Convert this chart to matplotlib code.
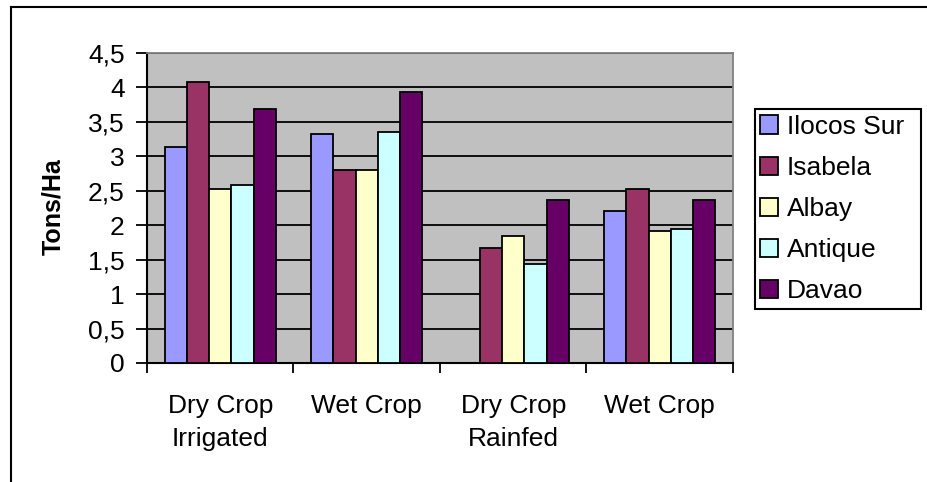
import matplotlib
matplotlib.use("Agg")

import numpy as np
import matplotlib.pyplot as plt
from matplotlib.lines import Line2D
from matplotlib.ticker import FuncFormatter, MultipleLocator

plt.rcParams["font.family"] = ["Liberation Sans", "DejaVu Sans"]

# Rendimento por tipo de cultivo (toneladas por hectare)
categories = ["Dry Crop\nIrrigated", "Wet Crop", "Dry Crop\nRainfed", "Wet Crop"]
provinces = ["Ilocos Sur", "Isabela", "Albay", "Antique", "Davao"]
ilocos_sur = [3.13, 3.33, np.nan, 2.20]
isabela = [4.08, 2.80, 1.67, 2.52]
albay = [2.52, 2.80, 1.85, 1.91]
antique = [2.58, 3.35, 1.44, 1.94]
davao = [3.68, 3.94, 2.37, 2.37]
colors = ["#9999FF", "#993366", "#FFFFCC", "#CCFFFF", "#660066"]

series = [ilocos_sur, isabela, albay, antique, davao]

fig = plt.figure(figsize=(9.28, 4.82), dpi=100)
ax = fig.add_axes([147 / 928, 1 - 363 / 482, (733 - 147) / 928, (363 - 53) / 482])

x = np.arange(len(categories))
width = 0.152
for i, (name, vals, col) in enumerate(zip(provinces, series, colors)):
    vals = np.array(vals, dtype=float)
    pos = x + (i - 2) * width
    ok = ~np.isnan(vals)
    ax.bar(pos[ok], vals[ok], width, color=col, edgecolor="black",
           linewidth=1.3, label=name, zorder=3)

ax.set_facecolor("#C0C0C0")
ax.set_xlim(-0.5, len(categories) - 0.5)
ax.set_ylim(0, 4.5)
ax.yaxis.set_major_locator(MultipleLocator(0.5))
ax.yaxis.set_major_formatter(FuncFormatter(lambda v, p: f"{v:g}".replace(".", ",")))
ax.grid(axis="y", color="black", linewidth=1.3)
ax.set_axisbelow(True)

ax.set_xticks(np.arange(-0.5, len(categories), 1.0))
ax.set_xticklabels([])
ax.set_xticks(x, minor=True)
ax.set_xticklabels(categories, minor=True, fontsize=19, linespacing=1.5)
ax.tick_params(axis="x", which="minor", length=0, pad=22)
ax.tick_params(axis="x", which="major", length=7, width=1.3, direction="out")
ax.tick_params(axis="y", length=8, width=1.3, labelsize=19, pad=8)

for side in ["top", "right"]:
    ax.spines[side].set_color("#808080")
    ax.spines[side].set_linewidth(1.3)
for side in ["left", "bottom"]:
    ax.spines[side].set_color("black")
    ax.spines[side].set_linewidth(1.5)

fig.text(53 / 928, 1 - 207 / 482, "Tons/Ha", rotation=90, fontsize=18,
         fontweight="bold", ha="center", va="center")

leg = ax.legend(loc="center left", mode="expand",
                bbox_to_anchor=(755 / 928, 1 - 311 / 482, (921 - 755) / 928, 204 / 482),
                bbox_transform=fig.transFigure, fontsize=19, frameon=True,
                fancybox=False, framealpha=1, borderaxespad=0, borderpad=0.2,
                handlelength=0.68, handleheight=0.68, handletextpad=0.33,
                labelspacing=0.65)
leg.get_frame().set_edgecolor("black")
leg.get_frame().set_linewidth(1.5)

# cantos da moldura externa
fig.add_artist(Line2D([11 / 928, 1.0], [1 - 7 / 482, 1 - 7 / 482],
                      color="black", linewidth=1.5, transform=fig.transFigure))
fig.add_artist(Line2D([11 / 928, 11 / 928], [0.0, 1 - 7 / 482],
                      color="black", linewidth=1.5, transform=fig.transFigure))

fig.savefig("out.png", dpi=100)
